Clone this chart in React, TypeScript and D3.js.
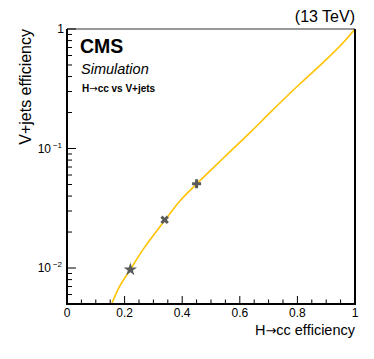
import React from 'react';
import * as d3 from 'd3';

// signal (H->cc) efficiency vs background (V+jets) efficiency
const sigEff = [0.155, 0.184, 0.221, 0.265, 0.34, 0.392, 0.45, 0.545, 0.639, 0.705, 0.809, 0.899, 0.958, 1.0];
const bkgEff = [0.005, 0.00712, 0.0098, 0.0144, 0.0251, 0.0364, 0.0505, 0.0841, 0.1386, 0.1995, 0.348, 0.552, 0.764, 1.0];

// working points
const wpSig = [0.22, 0.339, 0.45];
const wpBkg = [0.0097, 0.0253, 0.0508];
const wpShape = ['star', 'x', 'plus'];

const xTicks = [0, 0.2, 0.4, 0.6, 0.8, 1];
const xTickLabels = ['0', '0.2', '0.4', '0.6', '0.8', '1'];
const yTicks = [1, 0.1, 0.01];
const yTickBase = ['1', '10', '10'];
const yTickExp = ['', '\u22121', '\u22122'];

const W = 374;
const H = 359;
const m = { left: 67, right: 19, top: 29, bottom: 55 };
const font = '"Liberation Sans", Arial, Helvetica, sans-serif';
const arrowFont = '"DejaVu Sans", sans-serif';

const App = () => {
  const x = d3.scaleLinear().domain([0, 1]).range([m.left, W - m.right]);
  const y = d3.scaleLog().domain([0.005, 1]).range([H - m.bottom, m.top]);
  const x0 = m.left, x1 = W - m.right, y0 = H - m.bottom, y1 = m.top;

  const pts: [number, number][] = sigEff.map((s, i) => [s, bkgEff[i]]);
  const line = d3.line<[number, number]>()
    .x(d => x(d[0]))
    .y(d => y(d[1]))
    .curve(d3.curveCatmullRom.alpha(0.5));

  const xMinor = d3.range(0, 1.0001, 0.05).filter(v => Math.abs(v * 5 - Math.round(v * 5)) > 1e-6);
  const yMinor: number[] = [];
  for (let k = -3; k <= 0; k++) {
    for (let j = 2; j <= 9; j++) {
      const v = j * Math.pow(10, k);
      if (v >= 0.005 && v < 1) yMinor.push(v);
    }
  }

  const star = d3.symbol().type(d3.symbolStar).size(55)() as string;
  const cross = d3.symbol().type(d3.symbolCross).size(45)() as string;

  return (
    <svg width={W} height={H} style={{ position: 'absolute', left: 0, top: 0 }} fontFamily={font}>
      <rect x={0} y={0} width={W} height={H} fill="#fff" />
      <defs>
        <clipPath id="plot">
          <rect x={x0} y={y1} width={x1 - x0} height={y0 - y1} />
        </clipPath>
      </defs>

      {/* curve */}
      <path d={line(pts) as string} fill="none" stroke="#ffc200" strokeWidth={1.6} clipPath="url(#plot)" />

      {/* working points */}
      {wpSig.map((s, i) => {
        const px = x(s), py = y(wpBkg[i]);
        const shape = wpShape[i];
        if (shape === 'star') return <path key={i} d={star} transform={`translate(${px},${py})`} fill="#5a5a5a" />;
        if (shape === 'x') return <path key={i} d={cross} transform={`translate(${px},${py}) rotate(45)`} fill="#5a5a5a" />;
        return <path key={i} d={cross} transform={`translate(${px},${py})`} fill="#5a5a5a" />;
      })}

      {/* frame */}
      <line x1={x0} x2={x1} y1={y1} y2={y1} stroke="#333" strokeWidth={1.2} />
      <line x1={x1} x2={x1} y1={y1} y2={y0} stroke="#000" strokeWidth={2} />
      <line x1={x0} x2={x1 + 1} y1={y0} y2={y0} stroke="#000" strokeWidth={2} />
      <line x1={x0} x2={x0} y1={y1} y2={y0 + 1} stroke="#000" strokeWidth={2} />

      {/* x ticks */}
      {xTicks.map((t, i) => (
        <g key={'xt' + i}>
          <line x1={x(t)} x2={x(t)} y1={y0} y2={y0 - 8} stroke="#000" strokeWidth={1} />
          <text x={x(t)} y={y0 + 13} textAnchor="middle" fontSize={12} fill="#000">{xTickLabels[i]}</text>
        </g>
      ))}
      {xMinor.map((t, i) => (
        <line key={'xm' + i} x1={x(t)} x2={x(t)} y1={y0} y2={y0 - 4.5} stroke="#000" strokeWidth={1} />
      ))}

      {/* y ticks */}
      {yTicks.map((t, i) => (
        <g key={'yt' + i}>
          <line x1={x0} x2={x0 + 9} y1={y(t)} y2={y(t)} stroke="#000" strokeWidth={1} />
          <text x={yTickExp[i] ? x0 - 16 : x0 - 3} y={y(t) + 4} textAnchor="end" fontSize={12} fill="#000">{yTickBase[i]}</text>
          {yTickExp[i] && (
            <text x={x0 - 5} y={y(t) - 1} textAnchor="end" fontSize={8} fill="#000">{yTickExp[i]}</text>
          )}
        </g>
      ))}
      {yMinor.map((t, i) => (
        <line key={'ym' + i} x1={x0} x2={x0 + 5} y1={y(t)} y2={y(t)} stroke="#000" strokeWidth={1} />
      ))}

      {/* axis titles */}
      <text x={x1} y={335} textAnchor="end" fontSize={14.5} fill="#000">
        H<tspan fontFamily={arrowFont} fontSize={13}>{'\u2192'}</tspan>cc efficiency
      </text>
      <text transform={`translate(31,${y1}) rotate(-90)`} textAnchor="end" fontSize={16} fill="#000">V+jets efficiency</text>

      {/* labels */}
      <text x={x1} y={22} textAnchor="end" fontSize={16} fill="#000">(13 TeV)</text>
      <text x={80} y={53} fontSize={19.5} fontWeight="bold" fill="#000">CMS</text>
      <text x={81} y={74} fontSize={14.5} fontStyle="italic" fill="#000">Simulation</text>
      <text x={82} y={92} fontSize={10} fontWeight="bold" fill="#000">
        H<tspan fontFamily={arrowFont} fontWeight="normal" fontSize={10}>{'\u2192'}</tspan>cc vs V+jets
      </text>
    </svg>
  );
};

export default App;
